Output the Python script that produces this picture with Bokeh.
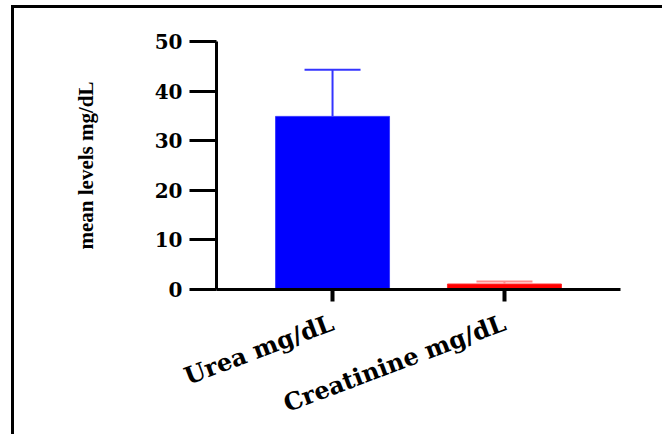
from bokeh.plotting import figure
from bokeh.models import ColumnDataSource, Range1d, FactorRange, Whisker, TeeHead, FixedTicker
from bokeh.embed import file_html
from bokeh.resources import INLINE

# data
categories = ["Urea mg/dL", "Creatinine mg/dL"]
means = [34.9, 1.1]
sds = [9.4, 0.5]
bar_colors = ["#0000FF", "#FF0000"]
bar_line_colors = ["#3a3aff", "#ff2a2a"]
err_colors = ["#3434ff", "#ff8a8a"]
y_ticks = [0, 10, 20, 30, 40, 50]
y_label = "mean levels mg/dL"

W, H = 662, 434
p = figure(
    width=W, height=H,
    x_range=FactorRange(*categories, range_padding=0.175),
    y_range=Range1d(0, 50),
    output_backend="svg", toolbar_location=None,
    min_border_left=216, min_border_top=41, min_border_bottom=144, min_border_right=42,
)
# page frame (left and top edges) painted behind a transparent canvas
p.styles = {
    "background": ("linear-gradient(#000,#000) 11px 5px / 3px 440px no-repeat, "
                   "linear-gradient(#000,#000) 11px 5px / 670px 3px no-repeat, #fff"),
}
p.outline_line_color = None
p.xgrid.grid_line_color = None
p.ygrid.grid_line_color = None
p.background_fill_alpha = 0
p.border_fill_alpha = 0

src = ColumnDataSource(dict(cat=categories, mean=means, color=bar_colors, lc=bar_line_colors))
p.vbar(x="cat", top="mean", width=0.663, source=src, fill_color="color", line_color="lc", line_width=1)

for c, m, s, ec in zip(categories, means, sds, err_colors):
    es = ColumnDataSource(dict(cat=[c], lower=[m], upper=[m + s]))
    w = Whisker(base="cat", lower="lower", upper="upper", source=es,
                line_color=ec, line_width=2,
                upper_head=TeeHead(size=56, line_color=ec, line_width=2),
                lower_head=None, level="annotation")
    p.add_layout(w)

# y axis
ya = p.yaxis[0]
ya.ticker = FixedTicker(ticks=y_ticks)
ya.axis_line_width = 3
ya.axis_line_color = "black"
ya.major_tick_line_width = 3
ya.major_tick_out = 27
ya.major_tick_in = 0
ya.minor_tick_line_color = None
ya.major_label_text_font = "DejaVu Serif"
ya.major_label_text_font_style = "bold"
ya.major_label_text_font_size = "20px"
ya.major_label_text_color = "black"
ya.major_label_standoff = 7
ya.axis_label = y_label
ya.axis_label_text_font = "Liberation Serif"
ya.axis_label_text_font_style = "bold"
ya.axis_label_text_font_size = "21px"
ya.axis_label_text_color = "black"
ya.axis_label_standoff = 54

# x axis
xa = p.xaxis[0]
xa.axis_line_width = 3
xa.axis_line_color = "black"
xa.major_tick_line_width = 4
xa.major_tick_out = 12
xa.major_tick_in = 0
xa.major_label_text_font = "DejaVu Serif"
xa.major_label_text_font_style = "bold"
xa.major_label_text_font_size = "24px"
xa.major_label_text_color = "black"
xa.major_label_orientation = 0.36
xa.major_label_standoff = 20

open("out.html", "w").write(file_html(p, INLINE))
